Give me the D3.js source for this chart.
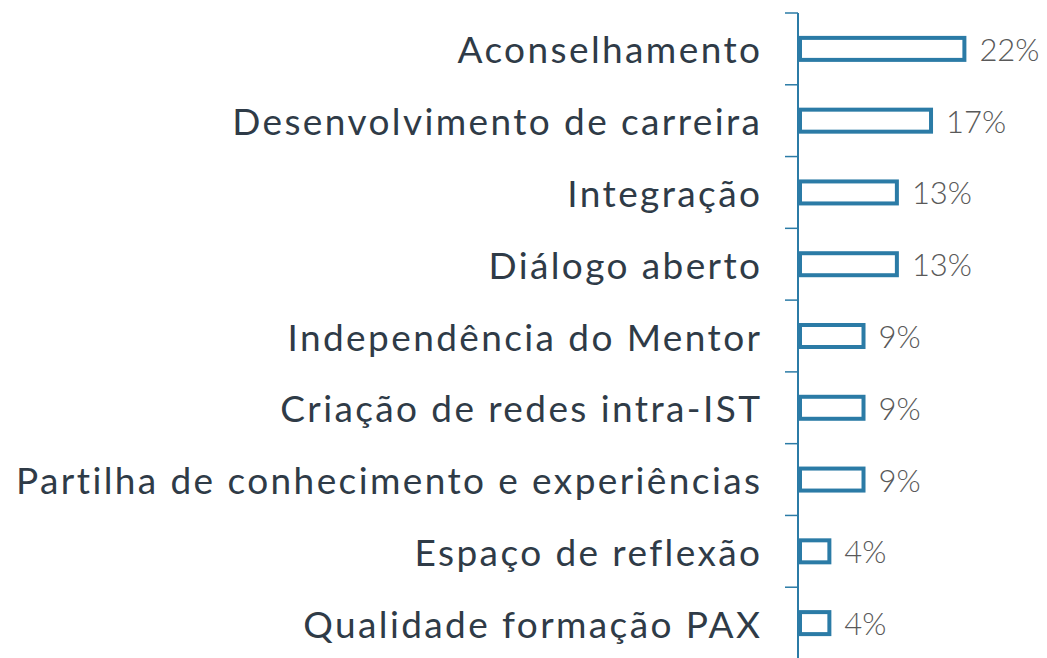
<!DOCTYPE html>
<html><head><meta charset="utf-8">
<script src="https://cdn.jsdelivr.net/npm/d3@7"></script>
<style>html,body{margin:0;padding:0;background:#fff;}svg{display:block;}</style>
</head><body>
<svg id="chart" width="1047" height="658"></svg>
<script>
const categories = ["Aconselhamento","Desenvolvimento de carreira","Integração","Diálogo aberto","Independência do Mentor","Criação de redes intra-IST","Partilha de conhecimento e experiências","Espaço de reflexão","Qualidade formação PAX"];
const values = [21.7, 17.4, 13.0, 13.0, 8.7, 8.7, 8.7, 4.3, 4.3];
const valueLabels = ["22%","17%","13%","13%","9%","9%","9%","4%","4%"];

const svg = d3.select("#chart");
const axisX = 798;
const y = d3.scaleBand().domain(categories).range([13, 659]).paddingInner(0).paddingOuter(0);
const x = d3.scaleLinear().domain([0, 25]).range([axisX, axisX + 194]);
const barH = 26, sw = 4;
const blue = "#2B7BA6";

// bars
svg.append("g").selectAll("rect").data(categories).join("rect")
  .attr("x", x(0) + sw/2)
  .attr("y", d => y(d) + y.bandwidth()/2 - barH/2 + sw/2)
  .attr("width", (d,i) => x(values[i]) - x(0) - sw)
  .attr("height", barH - sw)
  .attr("fill", "#fff")
  .attr("stroke", blue)
  .attr("stroke-width", sw);

// axis line & ticks
const ag = svg.append("g");
ag.append("line").attr("x1", axisX).attr("x2", axisX).attr("y1", 13).attr("y2", 658)
  .attr("stroke", blue).attr("stroke-width", 2);
ag.selectAll("line.tick").data(categories).join("line").attr("class","tick")
  .attr("x1", axisX - 13).attr("x2", axisX)
  .attr("y1", d => y(d)).attr("y2", d => y(d))
  .attr("stroke", blue).attr("stroke-width", 1.5);

// category labels
const ls = 2.4;
svg.append("g").selectAll("text").data(categories).join("text")
  .attr("x", 760 + ls).attr("y", d => y(d) + y.bandwidth()/2)
  .attr("text-anchor", "end").attr("dominant-baseline", "central")
  .attr("font-family", "Lato, sans-serif").attr("font-size", 37)
  .attr("letter-spacing", ls)
  .attr("fill", "#2F3B47")
  .text(d => d);

// value labels
svg.append("g").selectAll("text").data(categories).join("text")
  .attr("x", (d,i) => x(values[i]) + 13).attr("y", d => y(d) + y.bandwidth()/2)
  .attr("dominant-baseline", "central")
  .attr("font-family", "Lato, sans-serif").attr("font-size", 31).attr("font-weight", 300)
  .attr("fill", "#595959")
  .text((d,i) => valueLabels[i]);
</script>
</body></html>
